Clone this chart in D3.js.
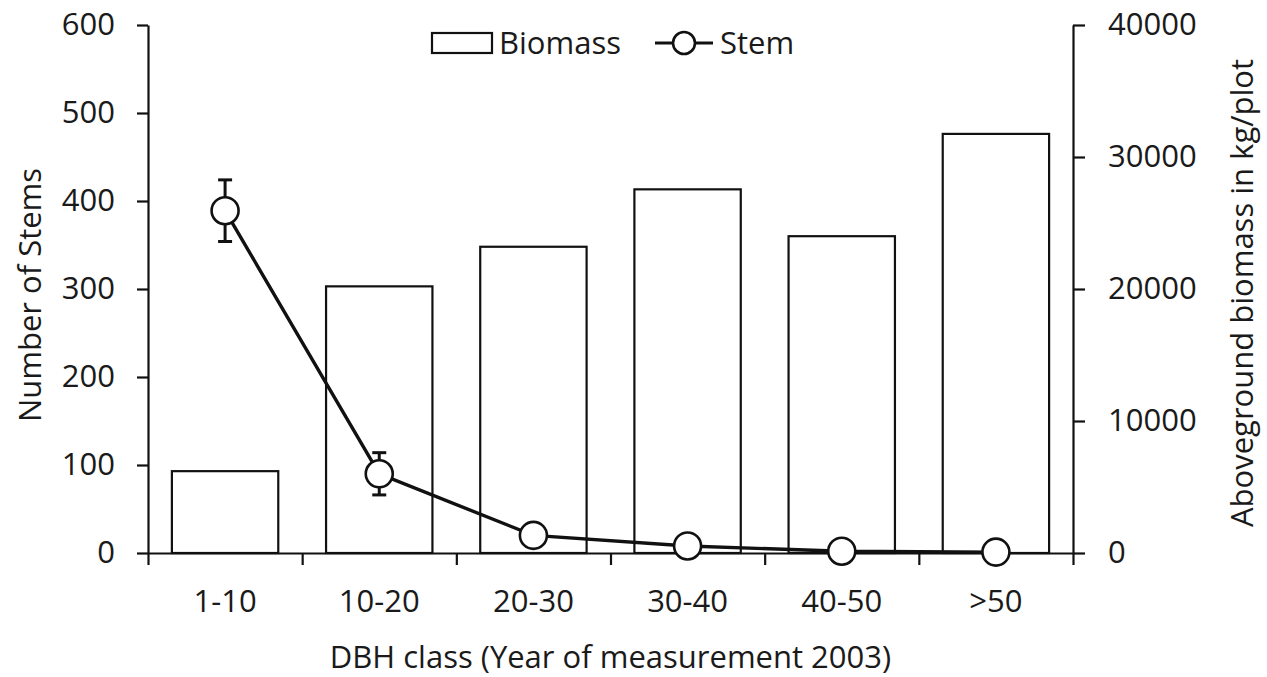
<!DOCTYPE html>
<html>
<head>
<meta charset="utf-8">
<script src="https://cdn.jsdelivr.net/npm/d3@7"></script>
<style>
  html, body { margin: 0; padding: 0; background: #fff; }
  svg { display: block; }
  text { font-family: "Open Sans", "Noto Sans", sans-serif; fill: #1a1a1a; }
</style>
</head>
<body>
<svg id="chart" width="1267" height="677"></svg>
<script>
// DBH classes and measured values
const categories = ["1-10", "10-20", "20-30", "30-40", "40-50", ">50"];
const biomass = [6200, 20200, 23200, 27550, 24000, 31750];     // kg/plot (right axis)
const stems = [389, 90, 20, 8, 2, 1];                          // number of stems (left axis)
const stemErr = [35, 24, 0, 0, 0, 0];                          // error bar half-length
const leftTicks = [0, 100, 200, 300, 400, 500, 600];
const rightTicks = [0, 10000, 20000, 30000, 40000];

const svg = d3.select("#chart");
const plotLeft = 148, plotRight = 1073, plotTop = 25, plotBottom = 553;
const fontSize = 31;

const x = d3.scaleBand().domain(categories).range([plotLeft, plotRight]).padding(0);
const xEdge = d3.scaleLinear().domain([0, categories.length]).range([plotLeft, plotRight]);
const yL = d3.scaleLinear().domain([0, 600]).range([plotBottom, plotTop]);
const yR = d3.scaleLinear().domain([0, 40000]).range([plotBottom, plotTop]);

const barW = x.bandwidth() * 0.69;

// Biomass bars (right axis)
svg.append("g").selectAll("rect")
  .data(categories)
  .join("rect")
  .attr("x", (d) => x(d) + x.bandwidth() / 2 - barW / 2)
  .attr("y", (d, i) => yR(biomass[i]))
  .attr("width", barW)
  .attr("height", (d, i) => yR(0) - yR(biomass[i]))
  .attr("fill", "#fff")
  .attr("stroke", "#111")
  .attr("stroke-width", 2.2);

// Axes
function styleAxis(g) {
  g.selectAll("path.domain").attr("stroke", "#111").attr("stroke-width", 2.2);
  g.selectAll(".tick line").attr("stroke", "#111").attr("stroke-width", 2.2);
  g.selectAll("text").style("font-size", fontSize + "px").attr("fill", "#1a1a1a")
    .style("font-family", '"Open Sans", sans-serif');
}

svg.append("g")
  .attr("transform", `translate(${plotLeft},0)`)
  .call(d3.axisLeft(yL).tickValues(leftTicks).tickSize(11).tickSizeOuter(0).tickPadding(22))
  .call(styleAxis);

svg.append("g")
  .attr("transform", `translate(${plotRight},0)`)
  .call(d3.axisRight(yR).tickValues(rightTicks).tickFormat(d3.format("d")).tickSize(12).tickSizeOuter(0).tickPadding(23))
  .call(styleAxis);

// x axis: tick marks at class boundaries, labels centred in each class
svg.append("g")
  .attr("transform", `translate(0,${plotBottom})`)
  .call(d3.axisBottom(xEdge).tickValues(d3.range(categories.length + 1)).tickFormat("").tickSize(12).tickSizeOuter(0))
  .call(styleAxis);

svg.append("g")
  .attr("transform", `translate(0,${plotBottom})`)
  .call(d3.axisBottom(x).tickSize(0).tickPadding(37))
  .call(styleAxis)
  .call((g) => g.select("path.domain").remove());

// Stem line, error bars and markers (left axis)
const cx = (i) => x(categories[i]) + x.bandwidth() / 2;

const errG = svg.append("g").attr("stroke", "#111").attr("stroke-width", 3);
stems.forEach((v, i) => {
  if (!stemErr[i]) return;
  const y1 = yL(v + stemErr[i]), y2 = yL(v - stemErr[i]);
  errG.append("line").attr("x1", cx(i)).attr("x2", cx(i)).attr("y1", y1).attr("y2", y2);
  errG.append("line").attr("x1", cx(i) - 7).attr("x2", cx(i) + 7).attr("y1", y1).attr("y2", y1);
  errG.append("line").attr("x1", cx(i) - 7).attr("x2", cx(i) + 7).attr("y1", y2).attr("y2", y2);
});

svg.append("path")
  .datum(stems)
  .attr("fill", "none")
  .attr("stroke", "#111")
  .attr("stroke-width", 3.4)
  .attr("d", d3.line().x((d, i) => cx(i)).y((d) => yL(d)));

svg.append("g").selectAll("circle")
  .data(stems)
  .join("circle")
  .attr("cx", (d, i) => cx(i))
  .attr("cy", (d) => yL(d))
  .attr("r", 13.5)
  .attr("fill", "#fff")
  .attr("stroke", "#111")
  .attr("stroke-width", 2.6);

// Axis titles
svg.append("text")
  .attr("transform", `translate(41,${(plotTop + plotBottom) / 2 + 6}) rotate(-90)`)
  .attr("text-anchor", "middle")
  .style("font-size", fontSize + "px")
  .text("Number of Stems");

svg.append("text")
  .attr("transform", `translate(1253,${(plotTop + plotBottom) / 2 + 4}) rotate(-90)`)
  .attr("text-anchor", "middle")
  .style("font-size", fontSize + "px")
  .text("Aboveground biomass in kg/plot");

svg.append("text")
  .attr("x", (plotLeft + plotRight) / 2)
  .attr("y", 668)
  .attr("text-anchor", "middle")
  .style("font-size", fontSize + "px")
  .text("DBH class (Year of measurement 2003)");

// Legend
const lg = svg.append("g");
lg.append("rect").attr("x", 432).attr("y", 33).attr("width", 60).attr("height", 20)
  .attr("fill", "#fff").attr("stroke", "#111").attr("stroke-width", 2.2);
lg.append("text").attr("x", 499).attr("y", 54).style("font-size", fontSize + "px").text("Biomass");
lg.append("line").attr("x1", 655).attr("x2", 713).attr("y1", 43).attr("y2", 43)
  .attr("stroke", "#111").attr("stroke-width", 3);
lg.append("circle").attr("cx", 684).attr("cy", 43).attr("r", 11)
  .attr("fill", "#fff").attr("stroke", "#111").attr("stroke-width", 2.6);
lg.append("text").attr("x", 720).attr("y", 54).style("font-size", fontSize + "px").text("Stem");
</script>
</body>
</html>
